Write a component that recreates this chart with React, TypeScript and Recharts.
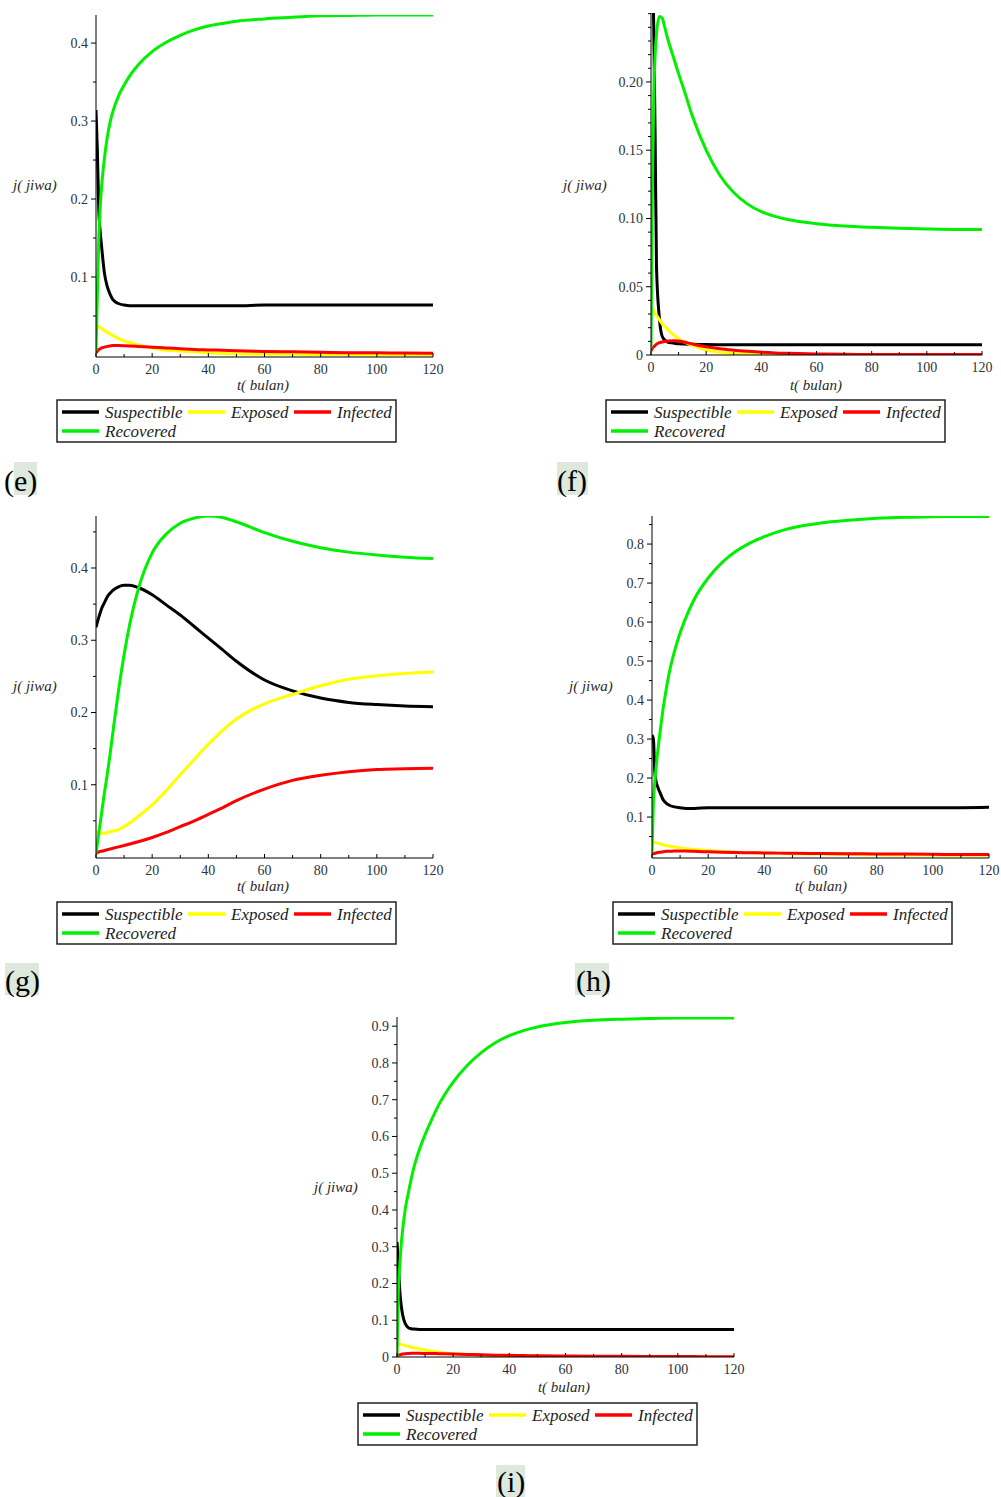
import React from 'react';
import { LineChart, Line, XAxis, YAxis } from 'recharts';

// ---------- shared time grid (t in months) ----------
const T = [0, 0.5, 1, 1.5, 2, 3, 4, 5, 6, 8, 10, 12, 15, 20, 25, 30, 35, 40, 45, 50, 60, 70, 80, 90, 100, 110, 120];

// ---------- panel (e) ----------
const eS = [0.314, 0.26, 0.185, 0.158, 0.139, 0.105, 0.088, 0.078, 0.071, 0.066, 0.064, 0.063, 0.063, 0.063, 0.063, 0.063, 0.063, 0.063, 0.063, 0.063, 0.064, 0.064, 0.064, 0.064, 0.064, 0.064, 0.064];
const eE = [0.038, 0.037, 0.036, 0.035, 0.034, 0.031, 0.029, 0.027, 0.025, 0.021, 0.018, 0.016, 0.013, 0.009, 0.006, 0.005, 0.004, 0.003, 0.002, 0.0015, 0.001, 0.0008, 0.0006, 0.0005, 0.0004, 0.0003, 0.0003];
const eI = [0.003, 0.005, 0.007, 0.008, 0.009, 0.010, 0.011, 0.0115, 0.012, 0.012, 0.0118, 0.0115, 0.011, 0.010, 0.009, 0.008, 0.007, 0.0065, 0.006, 0.0055, 0.0045, 0.004, 0.0035, 0.003, 0.0028, 0.0025, 0.0023];
const eR = [0.005, 0.08, 0.15, 0.19, 0.216, 0.252, 0.279, 0.298, 0.312, 0.332, 0.346, 0.358, 0.372, 0.389, 0.401, 0.410, 0.417, 0.422, 0.425, 0.428, 0.431, 0.433, 0.435, 0.4355, 0.436, 0.436, 0.436];

// ---------- panel (f) ----------
const fS = [0.31, 0.29, 0.24, 0.16, 0.064, 0.028, 0.014, 0.011, 0.0095, 0.0088, 0.0082, 0.008, 0.0078, 0.0076, 0.0075, 0.0075, 0.0075, 0.0075, 0.0075, 0.0075, 0.0075, 0.0075, 0.0075, 0.0075, 0.0075, 0.0075, 0.0075];
const fE = [0.036, 0.034, 0.032, 0.030, 0.029, 0.026, 0.023, 0.021, 0.019, 0.015, 0.012, 0.0095, 0.007, 0.0037, 0.002, 0.001, 0.0007, 0.0005, 0.0003, 0.0002, 0.0001, 0, 0, 0, 0, 0, 0];
const fI = [0.003, 0.005, 0.006, 0.007, 0.008, 0.009, 0.0095, 0.010, 0.0103, 0.0105, 0.0103, 0.0095, 0.008, 0.006, 0.0045, 0.0035, 0.0027, 0.002, 0.0015, 0.0012, 0.0008, 0.0005, 0.0004, 0.0003, 0.0003, 0.0003, 0.0003];
const fR = [0.005, 0.12, 0.19, 0.22, 0.235, 0.248, 0.247, 0.240, 0.232, 0.219, 0.206, 0.194, 0.175, 0.150, 0.1315, 0.119, 0.1105, 0.105, 0.1015, 0.099, 0.0962, 0.0945, 0.0935, 0.0928, 0.0923, 0.092, 0.092];

// ---------- panel (g) ----------
const gS = [0.318, 0.325, 0.332, 0.338, 0.344, 0.352, 0.360, 0.365, 0.369, 0.374, 0.376, 0.376, 0.373, 0.363, 0.349, 0.335, 0.319, 0.303, 0.287, 0.271, 0.245, 0.230, 0.220, 0.214, 0.211, 0.209, 0.208];
const gE = [0.037, 0.035, 0.034, 0.033, 0.033, 0.033, 0.034, 0.035, 0.036, 0.038, 0.042, 0.047, 0.056, 0.072, 0.092, 0.114, 0.135, 0.156, 0.175, 0.191, 0.212, 0.225, 0.237, 0.246, 0.251, 0.254, 0.256];
const gI = [0.005, 0.006, 0.007, 0.008, 0.008, 0.009, 0.010, 0.011, 0.012, 0.014, 0.016, 0.018, 0.021, 0.027, 0.034, 0.042, 0.050, 0.059, 0.068, 0.078, 0.094, 0.106, 0.113, 0.118, 0.121, 0.122, 0.123];
const gR = [0.005, 0.019, 0.033, 0.047, 0.061, 0.089, 0.114, 0.142, 0.172, 0.230, 0.280, 0.322, 0.370, 0.421, 0.447, 0.462, 0.469, 0.472, 0.470, 0.464, 0.449, 0.437, 0.428, 0.422, 0.418, 0.415, 0.413];

// ---------- panel (h) ----------
const hS = [0.31, 0.30, 0.215, 0.19, 0.178, 0.16, 0.144, 0.136, 0.131, 0.126, 0.124, 0.122, 0.122, 0.124, 0.124, 0.124, 0.124, 0.124, 0.124, 0.124, 0.124, 0.124, 0.124, 0.124, 0.124, 0.124, 0.125];
const hE = [0.037, 0.036, 0.035, 0.034, 0.033, 0.031, 0.029, 0.027, 0.026, 0.023, 0.021, 0.019, 0.017, 0.014, 0.012, 0.010, 0.009, 0.008, 0.007, 0.006, 0.005, 0.004, 0.0035, 0.003, 0.0025, 0.002, 0.002];
const hI = [0.004, 0.006, 0.007, 0.008, 0.009, 0.010, 0.011, 0.012, 0.012, 0.013, 0.013, 0.013, 0.012, 0.011, 0.010, 0.009, 0.0085, 0.008, 0.0075, 0.007, 0.0065, 0.006, 0.0055, 0.005, 0.0045, 0.004, 0.004];
const hR = [0.01, 0.14, 0.19, 0.23, 0.265, 0.325, 0.38, 0.425, 0.465, 0.525, 0.572, 0.610, 0.658, 0.713, 0.753, 0.782, 0.803, 0.819, 0.832, 0.842, 0.854, 0.861, 0.866, 0.869, 0.870, 0.871, 0.871];

// ---------- panel (i) ----------
const iS = [0.313, 0.25, 0.18, 0.14, 0.115, 0.09, 0.08, 0.077, 0.076, 0.075, 0.075, 0.075, 0.075, 0.075, 0.075, 0.075, 0.075, 0.075, 0.075, 0.075, 0.075, 0.075, 0.075, 0.075, 0.075, 0.075, 0.075];
const iE = [0.037, 0.036, 0.035, 0.034, 0.033, 0.031, 0.029, 0.027, 0.025, 0.022, 0.019, 0.016, 0.013, 0.009, 0.007, 0.005, 0.004, 0.003, 0.0025, 0.002, 0.0012, 0.0008, 0.0005, 0.0004, 0.0003, 0.0002, 0.0002];
const iI = [0.003, 0.005, 0.006, 0.007, 0.008, 0.009, 0.0095, 0.010, 0.010, 0.010, 0.0098, 0.0095, 0.009, 0.008, 0.007, 0.006, 0.005, 0.0045, 0.004, 0.0035, 0.0028, 0.0022, 0.0018, 0.0015, 0.0012, 0.001, 0.001];
const iR = [0.0, 0.18, 0.25, 0.305, 0.345, 0.405, 0.445, 0.482, 0.515, 0.565, 0.605, 0.640, 0.688, 0.748, 0.793, 0.828, 0.855, 0.874, 0.888, 0.898, 0.910, 0.916, 0.919, 0.921, 0.922, 0.922, 0.922];

// ---------- series / legend ----------
const SERIES_KEYS = ['S', 'E', 'I', 'R'];
const SERIES_NAMES = ['Suspectible', 'Exposed', 'Infected', 'Recovered'];
const SERIES_COLORS = ['#000000', '#ffff00', '#ff0000', '#00f000'];

// ---------- tick labels ----------
const X_TICKS = [0, 10, 20, 30, 40, 50, 60, 70, 80, 90, 100, 110, 120];
const X_MAJOR = [0, 20, 40, 60, 80, 100, 120];
const X_LABELS = ['0', '20', '40', '60', '80', '100', '120'];

const eYTicks = [0.05, 0.1, 0.15, 0.2, 0.25, 0.3, 0.35, 0.4];
const eYMajor = [0.1, 0.2, 0.3, 0.4];
const eYLabels = ['0.1', '0.2', '0.3', '0.4'];

const fYTicks = [0, 0.01, 0.02, 0.03, 0.04, 0.05, 0.06, 0.07, 0.08, 0.09, 0.1, 0.11, 0.12, 0.13, 0.14, 0.15, 0.16, 0.17, 0.18, 0.19, 0.2, 0.21, 0.22, 0.23, 0.24, 0.25];
const fYMajor = [0, 0.05, 0.1, 0.15, 0.2];
const fYLabels = ['0', '0.05', '0.10', '0.15', '0.20'];

const gYTicks = [0.05, 0.1, 0.15, 0.2, 0.25, 0.3, 0.35, 0.4, 0.45];
const gYMajor = [0.1, 0.2, 0.3, 0.4];
const gYLabels = ['0.1', '0.2', '0.3', '0.4'];

const hYTicks = [0.05, 0.1, 0.15, 0.2, 0.25, 0.3, 0.35, 0.4, 0.45, 0.5, 0.55, 0.6, 0.65, 0.7, 0.75, 0.8, 0.85];
const hYMajor = [0.1, 0.2, 0.3, 0.4, 0.5, 0.6, 0.7, 0.8];
const hYLabels = ['0.1', '0.2', '0.3', '0.4', '0.5', '0.6', '0.7', '0.8'];

const iYTicks = [0, 0.05, 0.1, 0.15, 0.2, 0.25, 0.3, 0.35, 0.4, 0.45, 0.5, 0.55, 0.6, 0.65, 0.7, 0.75, 0.8, 0.85, 0.9];
const iYMajor = [0, 0.1, 0.2, 0.3, 0.4, 0.5, 0.6, 0.7, 0.8, 0.9];
const iYLabels = ['0', '0.1', '0.2', '0.3', '0.4', '0.5', '0.6', '0.7', '0.8', '0.9'];

const Y_TITLE = 'j( jiwa)';
const X_TITLE = 't( bulan)';

const SERIF = '"Liberation Serif", "DejaVu Serif", "Times New Roman", serif';
const TICK_COLOR = '#2e3340';

const near = (a: number, b: number) => Math.abs(a - b) < 1e-9;

function makeRows(s: number[], e: number[], i: number[], r: number[]) {
  return T.map((t, k) => ({ t, S: s[k], E: e[k], I: i[k], R: r[k] }));
}

const YTick = (props: any) => {
  const { x, y, payload, majors, labels } = props;
  const idx = majors.findIndex((m: number) => near(m, payload.value));
  const major = idx >= 0;
  return (
    <g>
      <line x1={x - (major ? 5 : 3)} x2={x} y1={y} y2={y} stroke="#000" strokeWidth={1} />
      {major && (
        <text x={x - 8} y={y} dy="0.35em" textAnchor="end" fontFamily={SERIF} fontSize={14} fill={TICK_COLOR}>
          {labels[idx]}
        </text>
      )}
    </g>
  );
};

const XTick = (props: any) => {
  const { x, y, payload } = props;
  const idx = X_MAJOR.findIndex((m) => near(m, payload.value));
  const major = idx >= 0;
  return (
    <g>
      <line x1={x} x2={x} y1={y} y2={y - (major ? 4 : 3)} stroke="#000" strokeWidth={1} />
      {major && (
        <text x={x} y={y + 17} textAnchor="middle" fontFamily={SERIF} fontSize={14} fill={TICK_COLOR}>
          {X_LABELS[idx]}
        </text>
      )}
    </g>
  );
};

type Cfg = {
  x0: number; x120: number; yTop: number; yBottom: number;
  domain: [number, number];
  yTicks: number[]; yMajor: number[]; yLabels: string[];
  rows: any[];
  yTitle: [number, number]; xTitle: [number, number];
  legend: [number, number];
  tag: string; tagText: [number, number]; tagBox: [number, number, number, number];
};

const PANELS: Cfg[] = [
  {
    x0: 96, x120: 433, yTop: 15, yBottom: 357, domain: [-0.0026, 0.436],
    yTicks: eYTicks, yMajor: eYMajor, yLabels: eYLabels, rows: makeRows(eS, eE, eI, eR),
    yTitle: [13, 190], xTitle: [263, 390], legend: [57, 400],
    tag: '(e)', tagText: [4, 491], tagBox: [14, 462, 23, 33],
  },
  {
    x0: 651, x120: 982, yTop: 13, yBottom: 355, domain: [0, 0.2505],
    yTicks: fYTicks, yMajor: fYMajor, yLabels: fYLabels, rows: makeRows(fS, fE, fI, fR),
    yTitle: [563, 190], xTitle: [816, 390], legend: [606, 400],
    tag: '(f)', tagText: [557, 491], tagBox: [557, 462, 31, 33],
  },
  {
    x0: 96, x120: 433, yTop: 516, yBottom: 858, domain: [-0.0014, 0.472],
    yTicks: gYTicks, yMajor: gYMajor, yLabels: gYLabels, rows: makeRows(gS, gE, gI, gR),
    yTitle: [13, 691], xTitle: [263, 891], legend: [57, 902],
    tag: '(g)', tagText: [5, 991], tagBox: [5, 963, 34, 32],
  },
  {
    x0: 652, x120: 989, yTop: 516, yBottom: 858, domain: [-0.005, 0.872],
    yTicks: hYTicks, yMajor: hYMajor, yLabels: hYLabels, rows: makeRows(hS, hE, hI, hR),
    yTitle: [569, 691], xTitle: [821, 891], legend: [613, 902],
    tag: '(h)', tagText: [576, 991], tagBox: [575, 963, 34, 32],
  },
  {
    x0: 397, x120: 734, yTop: 1017, yBottom: 1357, domain: [0, 0.925],
    yTicks: iYTicks, yMajor: iYMajor, yLabels: iYLabels, rows: makeRows(iS, iE, iI, iR),
    yTitle: [314, 1192], xTitle: [564, 1392], legend: [358, 1403],
    tag: '(i)', tagText: [497, 1492], tagBox: [496, 1465, 29, 32],
  },
];

function Panel({ cfg }: { cfg: Cfg }) {
  const L = 60, R = 20, TOP = 10, B = 30;
  const plotW = cfg.x120 - cfg.x0;
  const plotH = cfg.yBottom - cfg.yTop;
  return (
    <div style={{ position: 'absolute', left: cfg.x0 - L, top: cfg.yTop - TOP }}>
      <LineChart
        width={plotW + L + R}
        height={plotH + TOP + B}
        data={cfg.rows}
        margin={{ top: TOP, right: R, left: 0, bottom: 0 }}
      >
        <XAxis
          dataKey="t" type="number" domain={[0, 120]} ticks={X_TICKS} interval={0}
          allowDataOverflow tickSize={0} tickMargin={0} tickLine={false} height={B}
          stroke="#000" tick={(p: any) => <XTick {...p} />}
        />
        <YAxis
          type="number" domain={cfg.domain} ticks={cfg.yTicks} interval={0}
          allowDataOverflow tickSize={0} tickMargin={0} tickLine={false} width={L}
          stroke="#000" tick={(p: any) => <YTick {...p} majors={cfg.yMajor} labels={cfg.yLabels} />}
        />
        {SERIES_KEYS.map((k, idx) => (
          <Line
            key={k} dataKey={k} type="monotone" stroke={SERIES_COLORS[idx]}
            strokeWidth={3} dot={false} isAnimationActive={false}
          />
        ))}
      </LineChart>
    </div>
  );
}

function LegendBox({ left, top }: { left: number; top: number }) {
  const lineX = [5, 131, 237, 5];
  const textX = [48, 174, 280, 48];
  const rowLineY = [12, 12, 12, 31];
  const rowTextY = [18, 18, 18, 37];
  return (
    <g transform={`translate(${left},${top})`}>
      <rect x={0} y={0} width={339} height={42} fill="#fff" stroke="#222" strokeWidth={1.5} />
      {SERIES_NAMES.map((name, k) => (
        <g key={name}>
          <line x1={lineX[k]} x2={lineX[k] + 37} y1={rowLineY[k]} y2={rowLineY[k]} stroke={SERIES_COLORS[k]} strokeWidth={3.5} />
          <text x={textX[k]} y={rowTextY[k]} fontFamily={SERIF} fontStyle="italic" fontSize={17} fill="#222">
            {name}
          </text>
        </g>
      ))}
    </g>
  );
}

export default function App() {
  return (
    <div style={{ position: 'absolute', left: 0, top: 0, width: 1001, height: 1497, background: '#fff', overflow: 'hidden' }}>
      {PANELS.map((cfg) => (
        <Panel key={cfg.tag} cfg={cfg} />
      ))}
      <svg width={1001} height={1497} style={{ position: 'absolute', left: 0, top: 0, pointerEvents: 'none' }}>
        {PANELS.map((cfg) => (
          <g key={cfg.tag}>
            <text x={cfg.yTitle[0]} y={cfg.yTitle[1]} fontFamily={SERIF} fontStyle="italic" fontSize={15} fill="#2a2a2a">
              {Y_TITLE}
            </text>
            <text x={cfg.xTitle[0]} y={cfg.xTitle[1]} textAnchor="middle" fontFamily={SERIF} fontStyle="italic" fontSize={15} fill="#2a2a2a">
              {X_TITLE}
            </text>
            <LegendBox left={cfg.legend[0]} top={cfg.legend[1]} />
            <rect x={cfg.tagBox[0]} y={cfg.tagBox[1]} width={cfg.tagBox[2]} height={cfg.tagBox[3]} fill="#dde9dd" />
            <text x={cfg.tagText[0]} y={cfg.tagText[1]} fontFamily={SERIF} fontSize={30} fill="#000">
              {cfg.tag}
            </text>
          </g>
        ))}
      </svg>
    </div>
  );
}
